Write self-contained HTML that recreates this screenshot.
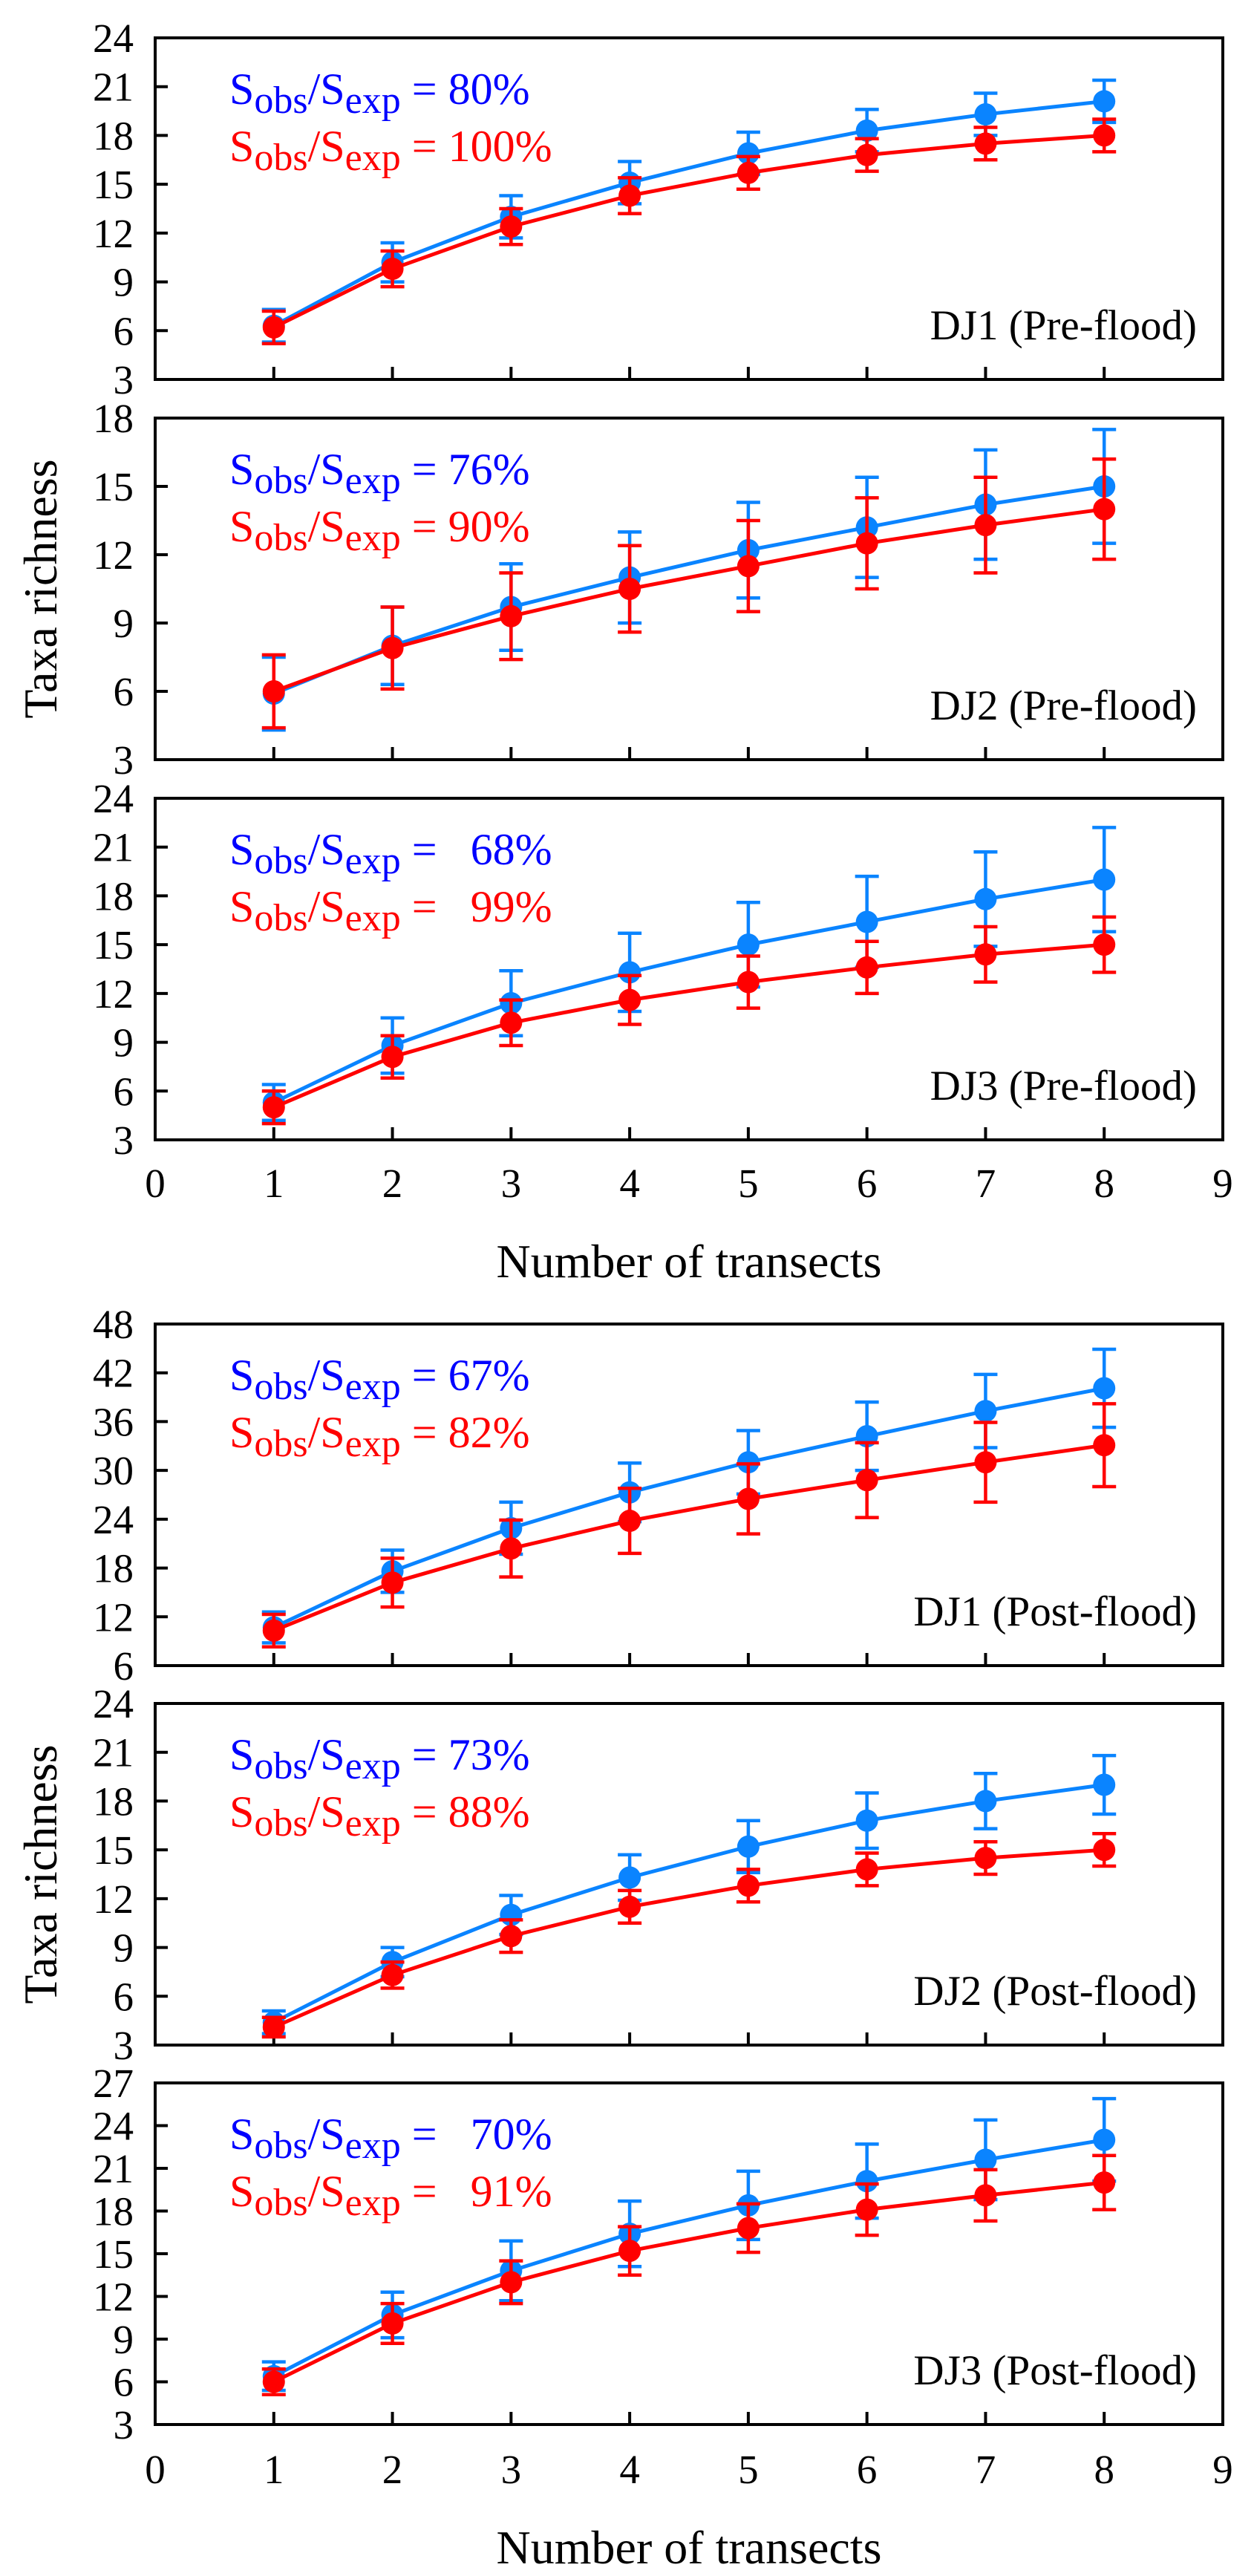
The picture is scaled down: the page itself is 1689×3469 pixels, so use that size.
<!DOCTYPE html>
<html><head><meta charset="utf-8">
<style>
html,body{margin:0;padding:0;background:#fff;}
svg{display:block;font-family:"Liberation Serif",serif;}
svg text, svg tspan{font-family:"Liberation Serif",serif;}
</style></head>
<body>
<svg id="chart" width="1689" height="3469" viewBox="0 0 1689 3469" xmlns="http://www.w3.org/2000/svg"></svg>
<script>
// ---- data ----
const transects = [1,2,3,4,5,6,7,8];
const panelNames = ["DJ1 (Pre-flood)","DJ2 (Pre-flood)","DJ3 (Pre-flood)","DJ1 (Post-flood)","DJ2 (Post-flood)","DJ3 (Post-flood)"];
const yMins = [3,3,3,6,3,3];
const yMaxs = [24,18,24,48,24,27];
const ySteps = [3,3,3,6,3,3];
const blueRatio = ["80%","76%","\u00a0 68%","67%","73%","\u00a0 70%"];
const redRatio = ["100%","90%","\u00a0 99%","82%","88%","\u00a0 91%"];
const blueMeans = [
 [6.3,10.2,13.0,15.1,16.9,18.3,19.3,20.1],
 [5.9,8.0,9.7,11.0,12.2,13.2,14.2,15.0],
 [5.3,8.8,11.4,13.3,15.0,16.4,17.8,19.0],
 [10.7,17.6,22.9,27.3,31.0,34.2,37.3,40.1],
 [4.4,8.1,11.0,13.3,15.2,16.8,18.0,19.0],
 [6.4,10.7,13.8,16.4,18.4,20.1,21.6,23.0]];
const blueErr = [
 [1.0,1.2,1.3,1.3,1.3,1.3,1.3,1.3],
 [1.6,1.7,1.9,2.0,2.1,2.2,2.4,2.5],
 [1.1,1.7,2.0,2.4,2.6,2.8,2.9,3.2],
 [1.9,2.6,3.2,3.6,3.9,4.2,4.5,4.8],
 [0.7,0.9,1.2,1.4,1.6,1.7,1.7,1.8],
 [1.0,1.6,2.1,2.3,2.4,2.6,2.8,2.9]];
const redMeans = [
 [6.2,9.8,12.4,14.3,15.7,16.8,17.5,18.0],
 [6.0,7.9,9.3,10.5,11.5,12.5,13.3,14.0],
 [5.0,8.1,10.2,11.6,12.7,13.6,14.4,15.0],
 [10.3,16.2,20.4,23.8,26.5,28.8,31.0,33.1],
 [4.1,7.3,9.7,11.5,12.8,13.8,14.5,15.0],
 [6.0,10.1,13.0,15.2,16.8,18.1,19.1,20.0]];
const redErr = [
 [1.0,1.1,1.1,1.1,1.0,1.0,1.0,1.0],
 [1.6,1.8,1.9,1.9,2.0,2.0,2.1,2.2],
 [1.0,1.3,1.4,1.5,1.6,1.6,1.7,1.7],
 [2.0,3.0,3.5,4.0,4.3,4.6,4.9,5.1],
 [0.6,0.8,1.0,1.0,1.0,1.0,1.0,1.0],
 [0.9,1.4,1.5,1.7,1.7,1.8,1.8,1.9]];
const xTicks = [0,1,2,3,4,5,6,7,8,9];

// ---- layout ----
const NS="http://www.w3.org/2000/svg";
const FF='Liberation Serif, serif';
const svg=document.getElementById('chart');
const X0=209, X1=1647, PH=460;
const panelTops=[51,563,1075,1783,2294,2805];
const BLUE="#0a84ff", RED="#ff0000";
function xs(v){return X0+(v-0)/(9-0)*(X1-X0);}
function mk(tag,attrs,parent){const e=document.createElementNS(NS,tag);for(const k in attrs)e.setAttribute(k,attrs[k]);if(tag==='text'||tag==='tspan')e.setAttribute('font-family',FF);(parent||svg).appendChild(e);return e;}

panelNames.forEach((nm,p)=>{
  const top=panelTops[p], bot=top+PH;
  const g=mk('g',{});
  
  
  const ys=v=>bot-(v-yMins[p])/(yMaxs[p]-yMins[p])*PH;
  const fr=mk('rect',{x:X0,y:top,width:X1-X0,height:PH,fill:'none',stroke:'#000','stroke-width':4},g);
  
  
  for(let v=yMins[p]; v<=yMaxs[p]+1e-9; v+=ySteps[p]){
    const y=ys(v);
    if(v>yMins[p]&&v<yMaxs[p]){mk('line',{x1:X0,x2:X0+17,y1:y,y2:y,stroke:'#000','stroke-width':4},g);}
    const t=mk('text',{x:180,y:y+19,'text-anchor':'end','font-size':55,fill:'#000'},g);
    t.textContent=v;
    
    
  }
  transects.forEach(v=>{mk('line',{x1:xs(v),x2:xs(v),y1:bot,y2:bot-17,stroke:'#000','stroke-width':4},g);});
  function series(means,errs,color,name){
    const sg=mk('g',{},g);
    
    
    mk('polyline',{points:transects.map((t,i)=>xs(t)+','+ys(means[i])).join(' '),fill:'none',stroke:color,'stroke-width':5},sg);
    transects.forEach((t,i)=>{
      const x=xs(t), yt=ys(means[i]+errs[i]), yb=ys(means[i]-errs[i]);
      mk('line',{x1:x,x2:x,y1:yt,y2:yb,stroke:color,'stroke-width':4.5},sg);
      mk('line',{x1:x-16,x2:x+16,y1:yt,y2:yt,stroke:color,'stroke-width':4.5},sg);
      mk('line',{x1:x-16,x2:x+16,y1:yb,y2:yb,stroke:color,'stroke-width':4.5},sg);
      const c=mk('circle',{cx:x,cy:ys(means[i]),r:15,fill:color},sg);
      
      
    });
  }
  series(blueMeans[p],blueErr[p],BLUE,'expected-series');
  series(redMeans[p],redErr[p],RED,'observed-series');
  function legend(y,color,val,name){
    const t=mk('text',{x:309,y:y,'font-size':60,fill:color},g);
    
    
    const parts=[['S',60,0],['obs',52,12],['/S',60,-12],['exp',52,12],[' = '+val,60,-12]];
    parts.forEach(([s,fs,dy])=>{const sp=mk('tspan',{'font-size':fs,dy:dy},t);sp.textContent=s;});
  }
  legend(top+89,'#0000ff',blueRatio[p],'legend-expected');
  legend(top+166,'#ff0000',redRatio[p],'legend-observed');
  const lb=mk('text',{x:1612,y:bot-54,'text-anchor':'end','font-size':57,fill:'#000'},g);
  lb.textContent=nm;
  
  
});

[[1535,1593,1700],[3265,3325,3432]].forEach(([bot,ly,ty],k)=>{
  xTicks.forEach(v=>{
    const t=mk('text',{x:xs(v),y:ly+19,'text-anchor':'middle','font-size':55,fill:'#000'});
    t.textContent=v;
    
    
  });
  const tt=mk('text',{x:928,y:ty+20,'text-anchor':'middle','font-size':64,fill:'#000'});
  tt.textContent='Number of transects';
  
  
  const cy=k===0?793:2524;
  const yt=mk('text',{x:0,y:0,'text-anchor':'middle','font-size':64,fill:'#000',transform:'translate(76,'+cy+') rotate(-90)'});
  yt.textContent='Taxa richness';
  
  
});
</script>
</body></html>
